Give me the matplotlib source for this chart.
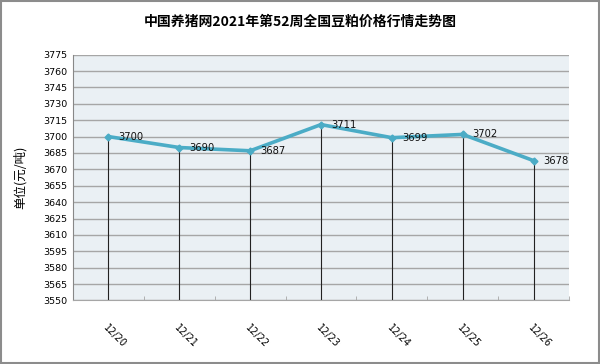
import numpy as np
import matplotlib
matplotlib.use('Agg')
from matplotlib import pyplot as plt
from matplotlib.patches import Rectangle

plt.rcParams['font.family'] = ['Noto Sans CJK SC', 'DejaVu Sans']

# data
dates = ['12/20', '12/21', '12/22', '12/23', '12/24', '12/25', '12/26']
prices = [3700, 3690, 3687, 3711, 3699, 3702, 3678]
y_ticks = list(range(3550, 3776, 15))

title = '中国养猪网2021年第52周全国豆粕价格行情走势图'
y_label = '单位(元/吨)'

line_color = '#4BACC6'

fig = plt.figure(figsize=(6.0, 3.64), dpi=100)
ax = fig.add_axes([73 / 600, 1 - 300.4 / 364, 496 / 600, 245.7 / 364])
ax.set_facecolor('#EAF0F4')

x = np.arange(len(dates))
y_min, y_max = y_ticks[0], y_ticks[-1]

# drop lines from each point to the axis
ax.vlines(x, y_min, prices, color='#222222', lw=0.8, zorder=2)
ax.plot(x, prices, color=line_color, lw=2.6, marker='D', ms=3.5,
        mfc=line_color, mec=line_color, zorder=3)

for xi, val in zip(x, prices):
    ax.text(xi + 0.14, val, str(val), fontsize=7.2, va='center', ha='left',
            family='DejaVu Sans', color='#111111', zorder=4)

ax.set_xlim(-0.5, len(dates) - 0.5)
ax.set_ylim(y_min, y_max)
ax.set_yticks(y_ticks)
ax.set_yticklabels([str(v) for v in y_ticks], fontsize=6.8, family='DejaVu Sans')
ax.yaxis.grid(True, color='#A6A6A6', lw=1.0)
ax.set_axisbelow(True)
ax.tick_params(axis='y', length=0, pad=4)

ax.set_xticks(x)
ax.set_xticklabels(dates, rotation=-45, ha='left', va='top', fontsize=7,
                   family='DejaVu Sans', rotation_mode='anchor')
ax.tick_params(axis='x', length=0, pad=16)
ax.set_xticks(np.arange(-0.5, len(dates), 1.0), minor=True)
ax.tick_params(axis='x', which='minor', direction='in', length=3, color='#A6A6A6')

for side in ['top', 'right']:
    ax.spines[side].set_visible(False)
ax.spines['left'].set_color('#888888')
ax.spines['bottom'].set_color('#A6A6A6')

ax.set_ylabel(y_label, fontsize=9, labelpad=12)

fig.text(0.5, 1 - 22 / 364, title, ha='center', va='center', fontsize=10,
         fontweight='bold')

fig.patches.append(Rectangle((0.002, 0.003), 0.996, 0.994, transform=fig.transFigure,
                             fill=False, ec='#8C8C8C', lw=1.5))

plt.savefig('out.png', dpi=100)
plt.close(fig)
